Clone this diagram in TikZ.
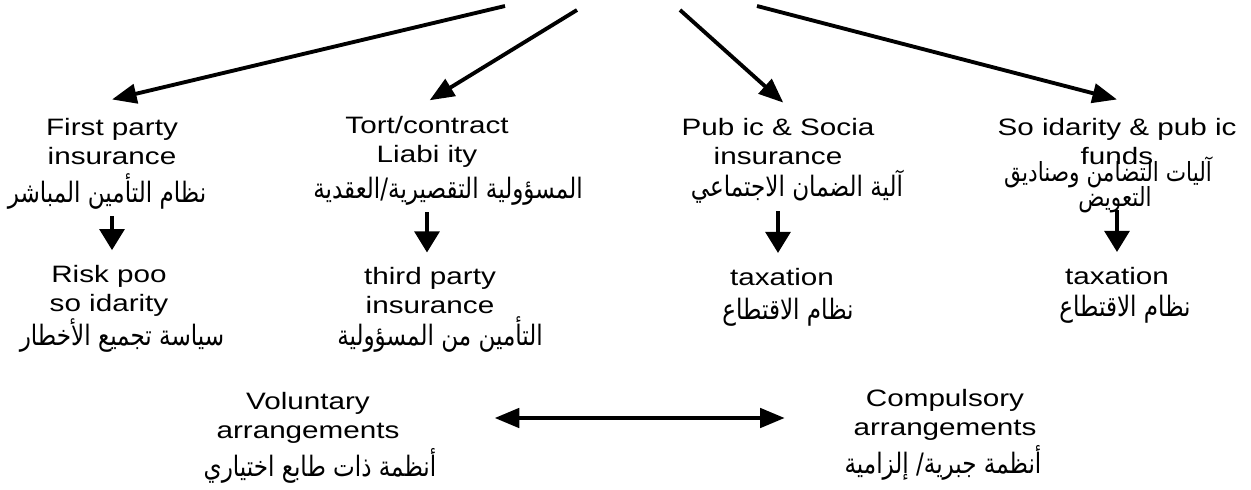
\documentclass[tikz,border=0pt]{standalone}
\usepackage{fontspec}
\setmainfont{Liberation Sans}[FakeStretch=1.25]
\newfontfamily\arabicfont[Script=Arabic,FakeStretch=0.82]{DejaVu Sans}
\TeXXeTstate=1
\usetikzlibrary{arrows.meta}

\begin{document}
\begin{tikzpicture}[x=0.02cm,y=-0.02cm,
	txt/.style={align=center,inner sep=0pt,font=\fontsize{13.5}{16.5}\selectfont},
	arab/.style={inner sep=0pt,font=\fontsize{16}{18}\arabicfont},
	arr/.style={line width=2.2pt,-{Triangle[length=14pt,width=11pt]}},
	darr/.style={line width=2.4pt,-{Triangle[length=12pt,width=14pt]},shorten <=4pt,shorten >=8.5pt},
	dbl/.style={line width=2.2pt,{Triangle[length=14pt,width=11pt]}-{Triangle[length=14pt,width=11pt]}}]
\useasboundingbox (0,0) rectangle (1251,490);
\coordinate (t1) at (505,6);
\coordinate (t2) at (577,10);
\coordinate (t3) at (680,10);
\coordinate (t4) at (757,6);
\node[txt] (fp) at (112,142) {First party\\insurance};
\node[arab] (fpA) at (107,191) {\beginR نظام التأمين المباشر\endR};
\node[txt] (tc) at (427,142) {Tort/contract\\Liabi ity};
\node[arab] (tcA) at (448,191) {\beginR المسؤولية التقصيرية/العقدية\endR};
\node[txt] (ps) at (778,142) {Pub ic \& Socia\\insurance};
\node[arab] (psA) at (797,187) {\beginR آلية الضمان الاجتماعي\endR};
\node[txt] (sd) at (1117,142) {So idarity \& pub ic\\funds};
\node[arab,font=\fontsize{15}{17}\arabicfont] (sdA) at (1108,172) {\beginR آليات التضامن وصناديق\endR};
\node[arab,font=\fontsize{15}{17}\arabicfont] (sdB) at (1115,200) {\beginR التعويض\endR};
\node[txt] (rp) at (109,291) {Risk poo\\so idarity};
\node[arab] (rpA) at (122,336) {\beginR سياسة تجميع الأخطار\endR};
\node[txt] (tp) at (430,291) {third party\\insurance};
\node[arab] (tpA) at (440,334) {\beginR التأمين من المسؤولية\endR};
\node[txt] (tx) at (782,277) {taxation};
\node[arab] (txA) at (788,312) {\beginR نظام الاقتطاع\endR};
\node[txt] (ty) at (1117,276) {taxation};
\node[arab] (tyA) at (1125,309) {\beginR نظام الاقتطاع\endR};
\node[txt] (vol) at (308,418) {Voluntary\\arrangements};
\node[arab] (volA) at (320,466) {\beginR أنظمة ذات طابع اختياري\endR};
\node[txt] (comp) at (945,415) {Compulsory\\arrangements};
\node[arab] (compA) at (943,463) {\beginR أنظمة جبرية/ إلزامية\endR};
\draw[arr] (t1) -- ([yshift=10.8pt]fp.north);
\draw[arr] (t2) -- ([yshift=9pt,xshift=1.5pt]tc.north);
\draw[arr] (t3) -- ([yshift=9pt,xshift=3pt]ps.north);
\draw[arr] (t4) -- ([yshift=10.8pt]sd.north);
\draw[darr] (fp |- fpA.south) -- (fp |- rp.north);
\draw[darr] (tc |- tcA.south) -- (tc |- tp.north);
\draw[darr] (ps |- psA.south) -- (ps |- tx.north);
\draw[darr,shorten <=-2pt] (sd |- sdB.south) -- (sd |- ty.north);
\draw[dbl,shorten <=54pt,shorten >=39pt] (vol.east) -- (vol.east -| comp.west);
\end{tikzpicture}
\end{document}
